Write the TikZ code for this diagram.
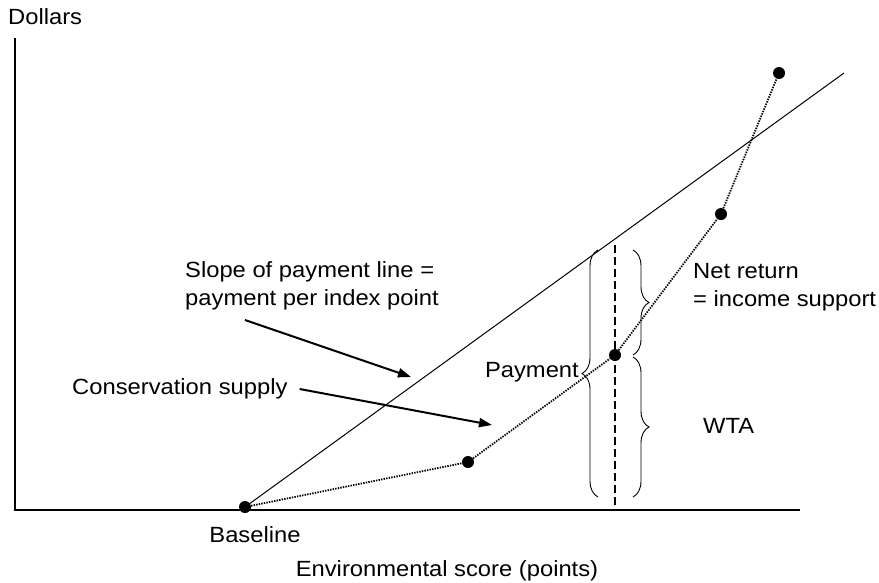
\documentclass[tikz,border=0pt]{standalone}
\usepackage{fontspec}
\setmainfont{Liberation Sans}[FakeStretch=1.08]
\usepackage{tikz}
\usetikzlibrary{arrows.meta,positioning,calc,decorations.pathreplacing}

\tikzset{
  dot/.style={circle, fill=black, inner sep=0pt, minimum size=12pt},
  lbl/.style={font=\fontsize{22}{28}\selectfont, inner sep=0pt},
  supply/.style={line width=1.8pt, dash pattern=on 1.4pt off 1.2pt},
  pointer/.style={line width=2pt, -{Triangle[length=13pt,width=9pt]}},
  bracedeco/.style={decorate, decoration={brace, amplitude=16pt}, line width=0.9pt}
}

\begin{document}
\begin{tikzpicture}[x=1pt, y=-1pt]
            \useasboundingbox (0,0) rectangle (879,582);

            % Axes
            \coordinate (ytop) at (15,38);
            \coordinate (origin) at (15,510);
            \coordinate (xend) at (800,510);
            \draw[line width=1.5pt] (ytop) -- (origin) -- (xend);
            \node[lbl, anchor=west] (dollars) at (8,17) {Dollars};
            \node[lbl] (envscore) at (447,571) {Environmental score (points)};

            % Payment line
            \node[dot] (base) at (245,507) {};
            \node[lbl] (baseline) at (255,535) {Baseline};
            \coordinate (payend) at (844,73);
            \draw[line width=1pt] (base.center) -- (payend);

            % Conservation supply
            \node[dot] (s1) at (468,462) {};
            \node[dot] (s2) at (615,355) {};
            \node[dot] (s3) at (721,214) {};
            \node[dot] (s4) at (779,73) {};
            \draw[supply] (base) -- (s1) -- (s2) -- (s3) -- (s4);

            % Dashed level
            \coordinate (dtop) at (615,245);
            \coordinate (dbot) at (615,507);
            \draw[line width=2.5pt, dash pattern=on 8pt off 4pt] (dtop) -- (dbot);

            % Braces
            \coordinate (ptop) at (598,250);
            \coordinate (pbot) at (598,497);
            \draw[bracedeco] (pbot) -- (ptop);
            \node[lbl, anchor=east] (payment) at (579,372) {Payment};

            \coordinate (ntop) at (633,250);
            \coordinate (nbot) at (633,355);
            \draw[bracedeco] (ntop) -- (nbot);
            \node[lbl, anchor=west, align=left] (netreturn) at (693,287) {Net return\\= income support};

            \coordinate (wtop) at (633,357);
            \coordinate (wbot) at (633,497);
            \draw[bracedeco] (wtop) -- (wbot);
            \node[lbl, anchor=west] (wta) at (703,426) {WTA};

            % Labels with arrows
            \node[lbl, anchor=west, align=left] (slope) at (185,286) {Slope of payment line =\\payment per index point};
            \coordinate (slopetail) at (245,320);
            \coordinate (slopehead) at (411,377);
            \draw[pointer] (slopetail) -- (slopehead);

            \node[lbl, anchor=west] (conssupply) at (72,389) {Conservation supply};
            \coordinate (supphead) at (492,425);
            \draw[pointer] ([xshift=12pt]conssupply.east) -- (supphead);
        \end{tikzpicture}
\end{document}
